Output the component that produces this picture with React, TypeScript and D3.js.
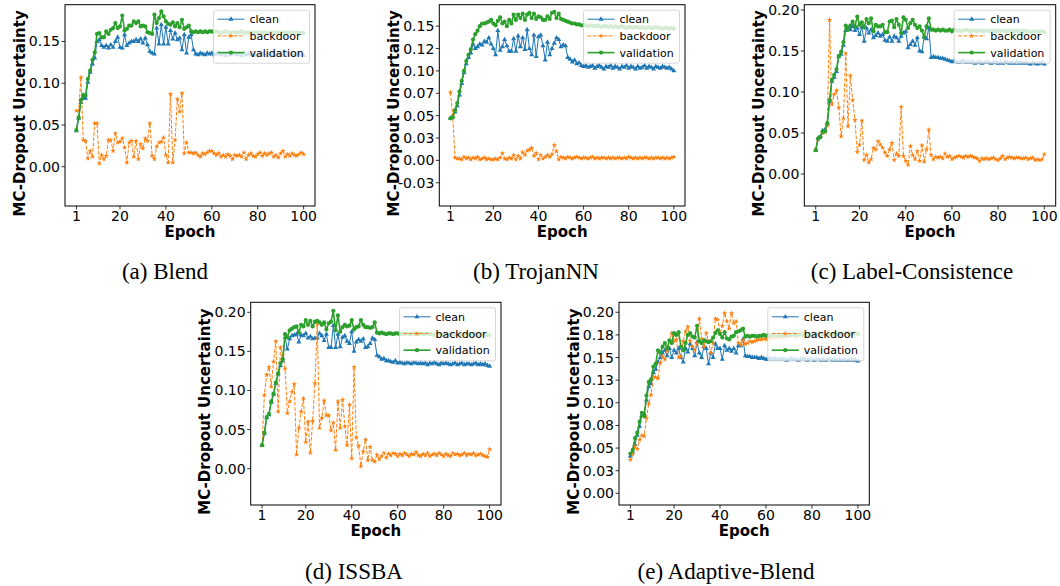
import React from "react";
import * as d3 from "d3";

const epochs: number[] = d3.range(1, 101);
const xTicks = [1, 20, 40, 60, 80, 100];
const seriesNames = ["clean", "backdoor", "validation"];

// (a) Blend
const blendClean = [
  0.043,0.058,0.077,0.082,0.082,0.101,0.113,0.123,0.130,0.150,
  0.152,0.145,0.143,0.145,0.142,0.146,0.143,0.150,0.155,0.143,
  0.142,0.158,0.145,0.148,0.150,0.150,0.152,0.150,0.153,0.148,
  0.154,0.146,0.138,0.136,0.135,0.166,0.147,0.170,0.147,0.167,
  0.147,0.163,0.153,0.160,0.152,0.154,0.140,0.158,0.136,0.155,
  0.158,0.140,0.135,0.134,0.136,0.135,0.134,0.136,0.135,0.136,
  0.134,0.135,0.136,0.134,0.135,0.133,0.136,0.134,0.135,0.136,
  0.134,0.135,0.133,0.136,0.134,0.135,0.134,0.136,0.133,0.135,
  0.134,0.136,0.135,0.133,0.135,0.134,0.136,0.134,0.135,0.133,
  0.135,0.134,0.136,0.134,0.135,0.133,0.134,0.135,0.134,0.133];
const blendBackdoor = [
  0.067,0.067,0.107,0.032,0.031,0.010,0.019,0.012,0.052,0.052,
  0.004,0.014,0.009,0.013,0.032,0.032,0.019,0.040,0.029,0.030,
  0.034,0.023,0.005,0.029,0.031,0.012,0.031,0.009,0.027,0.022,
  0.034,0.031,0.052,0.013,0.009,0.024,0.029,0.030,0.035,0.014,
  0.005,0.087,0.005,0.032,0.081,0.066,0.088,0.016,0.029,0.017,
  0.017,0.016,0.017,0.014,0.012,0.016,0.015,0.017,0.019,0.019,
  0.016,0.014,0.016,0.012,0.014,0.012,0.015,0.013,0.009,0.014,
  0.013,0.014,0.012,0.017,0.009,0.014,0.016,0.013,0.012,0.015,
  0.017,0.013,0.016,0.014,0.016,0.017,0.012,0.014,0.011,0.016,
  0.019,0.012,0.015,0.013,0.016,0.014,0.013,0.015,0.017,0.015];
const blendValidation = [
  0.044,0.059,0.080,0.086,0.085,0.105,0.115,0.128,0.137,0.159,
  0.160,0.155,0.155,0.162,0.159,0.164,0.166,0.172,0.166,0.168,
  0.181,0.163,0.165,0.169,0.169,0.174,0.172,0.174,0.168,0.169,
  0.168,0.161,0.160,0.159,0.182,0.172,0.178,0.186,0.180,0.174,
  0.171,0.170,0.173,0.168,0.172,0.167,0.176,0.165,0.167,0.169,
  0.162,0.161,0.162,0.161,0.162,0.161,0.162,0.161,0.162,0.162,
  0.161,0.162,0.161,0.160,0.161,0.162,0.161,0.160,0.161,0.161,
  0.160,0.161,0.162,0.160,0.161,0.160,0.161,0.160,0.161,0.160,
  0.161,0.160,0.161,0.160,0.160,0.161,0.160,0.161,0.160,0.160,
  0.161,0.160,0.160,0.161,0.160,0.160,0.161,0.160,0.160,0.160];

// (b) TrojanNN
const trojanClean = [
  0.047,0.049,0.054,0.061,0.073,0.086,0.098,0.108,0.115,0.120,
  0.130,0.125,0.127,0.130,0.129,0.133,0.132,0.137,0.130,0.125,
  0.118,0.145,0.123,0.127,0.135,0.128,0.122,0.122,0.136,0.122,
  0.139,0.127,0.137,0.124,0.146,0.125,0.118,0.140,0.116,0.138,
  0.140,0.128,0.112,0.132,0.118,0.125,0.131,0.137,0.135,0.127,
  0.129,0.128,0.115,0.113,0.110,0.112,0.108,0.109,0.106,0.105,
  0.106,0.104,0.105,0.106,0.103,0.105,0.106,0.104,0.102,0.105,
  0.104,0.106,0.103,0.105,0.104,0.102,0.105,0.104,0.106,0.103,
  0.105,0.104,0.102,0.105,0.103,0.104,0.106,0.103,0.105,0.104,
  0.102,0.105,0.104,0.103,0.105,0.104,0.103,0.104,0.102,0.100];
const trojanBackdoor = [
  0.076,0.050,0.003,0.002,0.002,0.001,0.004,0.002,0.003,0.001,
  0.003,0.002,0.004,0.001,0.002,0.003,0.001,0.002,0.001,0.001,
  0.002,0.001,0.003,0.008,0.002,0.001,0.003,0.002,0.006,0.001,
  0.005,0.002,0.009,0.006,0.011,0.012,0.014,0.005,0.008,0.001,
  0.006,0.002,0.004,0.006,0.004,0.007,0.017,0.010,0.001,0.004,
  0.003,0.002,0.004,0.003,0.002,0.003,0.004,0.003,0.002,0.003,
  0.003,0.002,0.003,0.004,0.002,0.003,0.002,0.003,0.003,0.002,
  0.003,0.002,0.003,0.002,0.003,0.003,0.002,0.003,0.002,0.004,
  0.003,0.002,0.003,0.002,0.003,0.002,0.003,0.003,0.002,0.003,
  0.002,0.003,0.003,0.002,0.003,0.002,0.003,0.002,0.003,0.004];
const trojanValidation = [
  0.047,0.048,0.056,0.064,0.077,0.089,0.100,0.111,0.118,0.124,
  0.135,0.141,0.145,0.150,0.153,0.153,0.154,0.155,0.157,0.153,
  0.151,0.156,0.160,0.153,0.155,0.150,0.157,0.153,0.163,0.157,
  0.163,0.159,0.164,0.157,0.163,0.165,0.159,0.164,0.158,0.161,
  0.160,0.157,0.157,0.161,0.158,0.165,0.166,0.159,0.164,0.158,
  0.157,0.156,0.155,0.154,0.153,0.153,0.152,0.152,0.151,0.151,
  0.151,0.150,0.151,0.150,0.150,0.151,0.150,0.149,0.150,0.150,
  0.149,0.150,0.149,0.150,0.149,0.149,0.150,0.149,0.148,0.149,
  0.149,0.148,0.149,0.149,0.148,0.149,0.148,0.148,0.149,0.148,
  0.148,0.149,0.148,0.148,0.147,0.148,0.148,0.147,0.148,0.147];

// (c) Label-Consistence
const lcClean = [
  0.029,0.044,0.046,0.053,0.054,0.061,0.088,0.113,0.118,0.125,
  0.143,0.146,0.157,0.175,0.178,0.176,0.180,0.175,0.178,0.170,
  0.179,0.162,0.178,0.172,0.176,0.166,0.169,0.172,0.168,0.170,
  0.163,0.162,0.167,0.162,0.168,0.166,0.162,0.168,0.172,0.174,
  0.154,0.158,0.162,0.157,0.166,0.150,0.149,0.167,0.165,0.178,
  0.142,0.143,0.142,0.142,0.141,0.141,0.140,0.139,0.138,0.137,
  0.138,0.137,0.136,0.137,0.138,0.136,0.137,0.136,0.137,0.135,
  0.136,0.137,0.135,0.136,0.137,0.136,0.135,0.136,0.137,0.135,
  0.136,0.135,0.137,0.136,0.135,0.136,0.135,0.137,0.135,0.136,
  0.135,0.136,0.135,0.134,0.136,0.135,0.134,0.135,0.136,0.134];
const lcBackdoor = [
  0.030,0.042,0.045,0.050,0.051,0.059,0.188,0.085,0.097,0.102,
  0.081,0.046,0.068,0.147,0.058,0.120,0.090,0.066,0.027,0.036,
  0.065,0.017,0.023,0.014,0.018,0.032,0.030,0.040,0.036,0.032,
  0.026,0.022,0.030,0.038,0.017,0.025,0.022,0.082,0.022,0.016,
  0.011,0.034,0.023,0.018,0.028,0.016,0.035,0.015,0.030,0.054,
  0.023,0.018,0.021,0.020,0.021,0.019,0.025,0.021,0.022,0.018,
  0.020,0.021,0.022,0.021,0.020,0.022,0.021,0.022,0.021,0.020,
  0.019,0.016,0.019,0.018,0.019,0.018,0.019,0.020,0.018,0.017,
  0.019,0.022,0.018,0.020,0.021,0.020,0.019,0.020,0.020,0.019,
  0.019,0.020,0.018,0.019,0.020,0.017,0.018,0.017,0.018,0.024];
const lcValidation = [
  0.029,0.043,0.045,0.052,0.052,0.062,0.090,0.115,0.121,0.128,
  0.144,0.149,0.161,0.181,0.176,0.181,0.186,0.180,0.192,0.182,
  0.185,0.179,0.189,0.184,0.190,0.174,0.182,0.180,0.180,0.182,
  0.173,0.173,0.186,0.187,0.179,0.189,0.182,0.172,0.191,0.188,
  0.178,0.184,0.188,0.182,0.178,0.180,0.175,0.167,0.180,0.190,
  0.176,0.176,0.175,0.176,0.175,0.176,0.175,0.175,0.176,0.174,
  0.176,0.175,0.175,0.174,0.175,0.176,0.175,0.174,0.175,0.175,
  0.174,0.175,0.175,0.174,0.175,0.174,0.175,0.175,0.174,0.175,
  0.174,0.175,0.174,0.174,0.175,0.174,0.174,0.175,0.174,0.174,
  0.175,0.174,0.174,0.173,0.174,0.174,0.173,0.174,0.174,0.173];

// (d) ISSBA
const issbaClean = [
  0.030,0.045,0.065,0.069,0.085,0.095,0.109,0.121,0.132,0.138,
  0.168,0.153,0.166,0.170,0.171,0.172,0.162,0.171,0.170,0.173,
  0.167,0.169,0.166,0.167,0.167,0.173,0.170,0.164,0.172,0.155,
  0.155,0.183,0.155,0.172,0.156,0.168,0.170,0.163,0.160,0.175,
  0.150,0.162,0.165,0.163,0.166,0.155,0.156,0.160,0.167,0.165,
  0.145,0.143,0.140,0.141,0.138,0.138,0.137,0.136,0.138,0.135,
  0.136,0.135,0.134,0.136,0.135,0.134,0.136,0.135,0.134,0.135,
  0.134,0.135,0.133,0.135,0.134,0.136,0.134,0.133,0.135,0.134,
  0.135,0.134,0.133,0.134,0.135,0.133,0.134,0.135,0.133,0.134,
  0.134,0.133,0.134,0.135,0.133,0.134,0.133,0.134,0.132,0.131];
const issbaBackdoor = [
  0.030,0.094,0.120,0.130,0.105,0.137,0.163,0.073,0.155,0.145,
  0.128,0.071,0.086,0.098,0.108,0.018,0.052,0.073,0.090,0.034,
  0.060,0.020,0.061,0.109,0.185,0.052,0.065,0.087,0.068,0.068,
  0.049,0.059,0.024,0.086,0.052,0.088,0.054,0.030,0.082,0.013,
  0.130,0.040,0.029,0.003,0.022,0.037,0.011,0.028,0.011,0.009,
  0.018,0.012,0.016,0.020,0.014,0.019,0.017,0.020,0.019,0.016,
  0.019,0.017,0.020,0.018,0.016,0.019,0.018,0.021,0.017,0.016,
  0.019,0.017,0.020,0.016,0.018,0.019,0.017,0.020,0.018,0.016,
  0.019,0.017,0.016,0.020,0.018,0.019,0.017,0.018,0.020,0.017,
  0.019,0.018,0.020,0.017,0.018,0.019,0.017,0.016,0.015,0.025];
const issbaValidation = [
  0.030,0.046,0.066,0.070,0.086,0.096,0.110,0.122,0.135,0.140,
  0.172,0.168,0.177,0.179,0.181,0.182,0.174,0.184,0.182,0.190,
  0.184,0.189,0.182,0.188,0.189,0.187,0.184,0.187,0.178,0.186,
  0.188,0.202,0.177,0.196,0.175,0.181,0.184,0.182,0.183,0.190,
  0.178,0.181,0.182,0.190,0.184,0.181,0.181,0.180,0.181,0.187,
  0.174,0.173,0.174,0.173,0.172,0.173,0.173,0.172,0.173,0.173,
  0.172,0.173,0.172,0.173,0.172,0.172,0.173,0.172,0.172,0.173,
  0.172,0.172,0.173,0.172,0.172,0.171,0.172,0.172,0.171,0.172,
  0.172,0.171,0.172,0.172,0.171,0.172,0.171,0.172,0.171,0.171,
  0.172,0.171,0.171,0.172,0.171,0.171,0.172,0.171,0.171,0.171];

// (e) Adaptive-Blend
const adaptClean = [
  0.041,0.046,0.054,0.064,0.074,0.086,0.088,0.103,0.118,0.121,
  0.133,0.137,0.145,0.150,0.155,0.158,0.152,0.160,0.150,0.158,
  0.155,0.160,0.150,0.145,0.160,0.156,0.165,0.160,0.152,0.167,
  0.155,0.150,0.162,0.160,0.143,0.155,0.150,0.165,0.160,0.160,
  0.148,0.163,0.158,0.160,0.157,0.160,0.155,0.163,0.163,0.170,
  0.152,0.151,0.151,0.150,0.150,0.150,0.149,0.150,0.149,0.148,
  0.148,0.149,0.148,0.149,0.148,0.148,0.149,0.148,0.147,0.148,
  0.149,0.148,0.148,0.147,0.148,0.149,0.148,0.147,0.148,0.148,
  0.147,0.148,0.148,0.147,0.148,0.147,0.148,0.148,0.147,0.148,
  0.147,0.148,0.147,0.148,0.147,0.147,0.148,0.147,0.147,0.146];
const adaptBackdoor = [
  0.037,0.043,0.052,0.049,0.059,0.064,0.063,0.083,0.099,0.109,
  0.129,0.128,0.127,0.144,0.151,0.148,0.158,0.168,0.177,0.168,
  0.170,0.150,0.151,0.168,0.179,0.184,0.168,0.162,0.158,0.166,
  0.193,0.171,0.162,0.177,0.168,0.155,0.166,0.193,0.192,0.177,
  0.185,0.199,0.190,0.182,0.199,0.188,0.190,0.166,0.164,0.169,
  0.165,0.166,0.168,0.167,0.168,0.169,0.170,0.170,0.171,0.170,
  0.172,0.171,0.173,0.172,0.174,0.173,0.172,0.175,0.173,0.176,
  0.174,0.175,0.173,0.176,0.175,0.177,0.174,0.175,0.176,0.174,
  0.176,0.175,0.177,0.174,0.176,0.175,0.178,0.176,0.175,0.177,
  0.176,0.174,0.177,0.175,0.176,0.178,0.175,0.176,0.177,0.176];
const adaptValidation = [
  0.044,0.048,0.061,0.067,0.079,0.089,0.085,0.108,0.123,0.126,
  0.140,0.143,0.158,0.155,0.162,0.166,0.160,0.169,0.166,0.177,
  0.175,0.178,0.162,0.158,0.166,0.175,0.177,0.173,0.172,0.185,
  0.168,0.166,0.169,0.168,0.167,0.168,0.172,0.177,0.180,0.176,
  0.172,0.178,0.171,0.170,0.173,0.174,0.178,0.179,0.180,0.182,
  0.173,0.174,0.173,0.174,0.174,0.173,0.174,0.174,0.175,0.174,
  0.175,0.174,0.175,0.175,0.174,0.175,0.175,0.174,0.175,0.175,
  0.175,0.176,0.175,0.175,0.176,0.175,0.176,0.175,0.176,0.176,
  0.175,0.176,0.176,0.175,0.176,0.176,0.175,0.176,0.176,0.176,
  0.176,0.175,0.176,0.176,0.177,0.176,0.176,0.176,0.177,0.176];

const ticks5 = [0, 0.05, 0.1, 0.15, 0.2];
const ticks5Labels = ["0.00", "0.05", "0.10", "0.15", "0.20"];
const ticksA = [0, 0.05, 0.1, 0.15];
const ticksALabels = ["0.00", "0.05", "0.10", "0.15"];
const ticksB = [-0.025, 0, 0.025, 0.05, 0.075, 0.1, 0.125, 0.15];
const ticksBLabels = ["-0.03", "0.00", "0.03", "0.05", "0.07", "0.10", "0.12", "0.15"];
const ticksE = [0, 0.025, 0.05, 0.075, 0.1, 0.125, 0.15, 0.175, 0.2];
const ticksELabels = ["0.00", "0.03", "0.05", "0.08", "0.10", "0.13", "0.15", "0.18", "0.20"];

const panels = [
  { id: "a", caption: "(a) Blend", data: [blendClean, blendBackdoor, blendValidation],
    yDomain: [-0.047, 0.194], yTicks: ticksA, yLabels: ticksALabels,
    left: 65, right: 315, top: 4.7, bottom: 206, capX: 165, capY: 279 },
  { id: "b", caption: "(b) TrojanNN", data: [trojanClean, trojanBackdoor, trojanValidation],
    yDomain: [-0.051, 0.174], yTicks: ticksB, yLabels: ticksBLabels,
    left: 439.3, right: 685, top: 4.7, bottom: 206, capX: 536, capY: 279 },
  { id: "c", caption: "(c) Label-Consistence", data: [lcClean, lcBackdoor, lcValidation],
    yDomain: [-0.039, 0.2065], yTicks: ticks5, yLabels: ticks5Labels,
    left: 804.3, right: 1055.7, top: 4.7, bottom: 206, capX: 912, capY: 279 },
  { id: "d", caption: "(d) ISSBA", data: [issbaClean, issbaBackdoor, issbaValidation],
    yDomain: [-0.0465, 0.2128], yTicks: ticks5, yLabels: ticks5Labels,
    left: 250.7, right: 501, top: 302.3, bottom: 505, capX: 354, capY: 579 },
  { id: "e", caption: "(e) Adaptive-Blend", data: [adaptClean, adaptBackdoor, adaptValidation],
    yDomain: [-0.0129, 0.211], yTicks: ticksE, yLabels: ticksELabels,
    left: 619, right: 869.3, top: 302.3, bottom: 505, capX: 726, capY: 579 },
];

const colors = ["#1f77b4", "#ff7f0e", "#2ca02c"];
const widths = [1, 1, 1.6];
const dashes = [undefined, "3.7 1.6", undefined];
const triPath = d3.symbol().type(d3.symbolTriangle).size(11)() as string;
const starPath = d3.symbol().type(d3.symbolStar).size(9)() as string;

function Marker({ k, x, y }: { k: number; x: number; y: number }) {
  if (k === 2) return <circle cx={x} cy={y} r={2.1} fill={colors[2]} />;
  return <path d={k === 0 ? triPath : starPath} transform={`translate(${x},${y})`} fill={colors[k]} />;
}

const sans = "'DejaVu Sans', sans-serif";

function Panel({ p }: { p: any }) {
  const x = d3.scaleLinear().domain([-3.95, 104.95]).range([p.left, p.right]);
  const y = d3.scaleLinear().domain(p.yDomain).range([p.bottom, p.top]);
  const line = d3.line<number>().x((_, i) => x(epochs[i])).y((v) => y(v));
  const clipId = `clip-${p.id}`;
  const lgW = 96, lgH = 53;
  const lgX = p.right - 5.5 - lgW, lgY = p.top + 5.5;
  const cy = (p.top + p.bottom) / 2 + 8;
  return (
    <g>
      <defs>
        <clipPath id={clipId}>
          <rect x={p.left} y={p.top} width={p.right - p.left} height={p.bottom - p.top} />
        </clipPath>
      </defs>
      <g clipPath={`url(#${clipId})`}>
        {p.data.map((vals: number[], k: number) => (
          <g key={k}>
            <path d={line(vals) as string} fill="none" stroke={colors[k]} strokeWidth={widths[k]}
              strokeDasharray={dashes[k]} strokeLinejoin="round" />
            {vals.map((v, i) => <Marker key={i} k={k} x={x(epochs[i])} y={y(v)} />)}
          </g>
        ))}
      </g>
      <rect x={p.left} y={p.top} width={p.right - p.left} height={p.bottom - p.top}
        fill="none" stroke="#000" strokeWidth={1} />
      {xTicks.map((t) => (
        <g key={t}>
          <line x1={x(t)} x2={x(t)} y1={p.bottom} y2={p.bottom + 3.5} stroke="#000" strokeWidth={0.8} />
          <text x={x(t)} y={p.bottom + 14.5} textAnchor="middle" fontFamily={sans} fontSize={14} fill="#000">{t}</text>
        </g>
      ))}
      {p.yTicks.map((t: number, i: number) => (
        <g key={i}>
          <line x1={p.left - 3.5} x2={p.left} y1={y(t)} y2={y(t)} stroke="#000" strokeWidth={0.8} />
          <text x={p.left - 5} y={y(t) + 5} textAnchor="end" fontFamily={sans} fontSize={14} fill="#000">{p.yLabels[i]}</text>
        </g>
      ))}
      <text x={(p.left + p.right) / 2} y={p.bottom + 30.5} textAnchor="middle" fontFamily={sans}
        fontSize={15} fontWeight="bold" fill="#000">Epoch</text>
      <text transform={`translate(${p.left - 40.5},${cy}) rotate(-90)`} textAnchor="middle" fontFamily={sans}
        fontSize={15} fontWeight="bold" fill="#000">MC-Dropout Uncertainty</text>
      <g>
        <rect x={lgX} y={lgY} width={lgW} height={lgH} rx={2} fill="#fff" fillOpacity={0.8}
          stroke="#cccccc" strokeWidth={0.8} />
        {seriesNames.map((name, k) => {
          const ry = lgY + 9 + k * 16.7;
          return (
            <g key={name}>
              <line x1={lgX + 4} x2={lgX + 31} y1={ry} y2={ry} stroke={colors[k]} strokeWidth={widths[k]}
                strokeDasharray={dashes[k]} />
              <Marker k={k} x={lgX + 17.5} y={ry} />
              <text x={lgX + 36} y={ry + 4} fontFamily={sans} fontSize={11} fill="#000">{name}</text>
            </g>
          );
        })}
      </g>
      <text x={p.capX} y={p.capY} textAnchor="middle" fontFamily="'Liberation Serif', 'Times New Roman', serif"
        fontSize={23} fill="#000">{p.caption}</text>
    </g>
  );
}

export default function App() {
  return (
    <div style={{ position: "absolute", left: 0, top: 0 }}>
      <svg width={1060} height={586} style={{ display: "block", background: "#fff" }}>
        <rect x={0} y={0} width={1060} height={586} fill="#fff" />
        {panels.map((p) => <Panel key={p.id} p={p} />)}
      </svg>
    </div>
  );
}
